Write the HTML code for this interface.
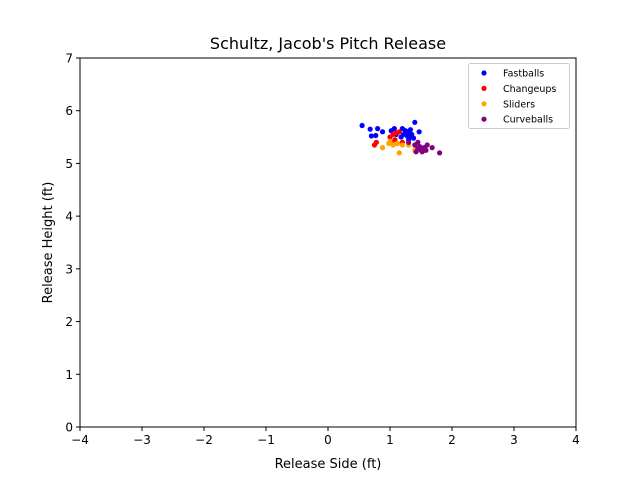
<!DOCTYPE html>
<html><head><meta charset="utf-8"><style>
body{margin:0;background:#fff}
svg text{font-family:"DejaVu Sans","Liberation Sans",sans-serif;fill:#000}
</style></head><body>
<svg id="chart" width="640" height="480" xmlns="http://www.w3.org/2000/svg">
<rect width="640" height="480" fill="#fff"/>
<text x="328" y="49" font-size="16" text-anchor="middle">Schultz, Jacob's Pitch Release</text>
<g id="marks"></g>
<rect x="80" y="58" width="496" height="369" fill="none" stroke="#000" stroke-width="1"/>
<g id="xticks"></g>
<g id="yticks"></g>
<text x="328" y="468" font-size="13" text-anchor="middle">Release Side (ft)</text>
<text transform="translate(52,242.5) rotate(-90)" font-size="13" text-anchor="middle">Release Height (ft)</text>
<g>
<rect x="468.5" y="63.5" width="101" height="65" rx="2" fill="#fff" fill-opacity="0.8" stroke="#ccc"/>
<g id="legend-items"></g>
</g>
</svg>
<script>
const seriesNames = ["Fastballs","Changeups","Sliders","Curveballs"];
const seriesColors = ["#0000ff","#ff0000","#ffa500","#800080"];
const xTicks = [-4,-3,-2,-1,0,1,2,3,4];
const yTicks = [0,1,2,3,4,5,6,7];
const fastballs = [[0.55,5.72],[0.68,5.65],[0.8,5.66],[0.88,5.6],[0.7,5.52],[0.77,5.53],[1.02,5.62],[1.07,5.66],[1.15,5.6],[1.2,5.66],[1.25,5.62],[1.3,5.6],[1.33,5.64],[1.22,5.55],[1.28,5.52],[1.35,5.55],[1.18,5.5],[1.1,5.55],[1.4,5.78],[1.47,5.6],[1.3,5.45],[1.25,5.58],[1.32,5.5],[1.38,5.48]];
const changeups = [[0.75,5.35],[0.78,5.4],[1.0,5.5],[1.05,5.55],[1.1,5.58],[1.08,5.45],[1.15,5.6],[1.02,5.4],[1.2,5.4],[1.12,5.38]];
const sliders = [[0.88,5.3],[0.98,5.38],[1.05,5.35],[1.12,5.38],[1.15,5.2],[1.3,5.35],[1.4,5.25],[1.0,5.42],[1.2,5.35]];
const curveballs = [[1.3,5.4],[1.4,5.35],[1.45,5.28],[1.5,5.25],[1.55,5.3],[1.6,5.35],[1.45,5.4],[1.52,5.22],[1.58,5.25],[1.68,5.3],[1.8,5.2],[1.48,5.32],[1.42,5.22]];

const NS="http://www.w3.org/2000/svg";
const X0=80,X1=576,Y0=427,Y1=58,XMIN=-4,XMAX=4,YMIN=0,YMAX=7;
function sx(v){return X0+(v-XMIN)/(XMAX-XMIN)*(X1-X0);}
function sy(v){return Y0-(v-YMIN)/(YMAX-YMIN)*(Y0-Y1);}
function mk(t,a){const e=document.createElementNS(NS,t);for(const k in a)e.setAttribute(k,a[k]);return e;}

const marks=document.getElementById('marks');
const allSeries=[fastballs,changeups,sliders,curveballs];
allSeries.forEach((s,i)=>{
  s.forEach(p=>{
    const c=mk('circle',{cx:sx(p[0]),cy:sy(p[1]),r:2.6,fill:seriesColors[i]});
    
    
    marks.appendChild(c);
  });
});

const xg=document.getElementById('xticks');
xTicks.forEach(t=>{
  const x=sx(t);
  const l=mk('line',{x1:x,x2:x,y1:Y0,y2:Y0+4,stroke:'#000'});
  
  
  xg.appendChild(l);
  const tx=mk('text',{x:x,y:Y0+17,'font-size':'12','text-anchor':'middle'});
  tx.textContent=(t<0?'\u2212'+(-t):t);
  
  
  xg.appendChild(tx);
});
const yg=document.getElementById('yticks');
yTicks.forEach(t=>{
  const y=sy(t);
  const l=mk('line',{x1:X0-4,x2:X0,y1:y,y2:y,stroke:'#000'});
  
  
  yg.appendChild(l);
  const tx=mk('text',{x:X0-7,y:y+4.5,'font-size':'12','text-anchor':'end'});
  tx.textContent=t;
  
  
  yg.appendChild(tx);
});

const lg=document.getElementById('legend-items');
seriesNames.forEach((n,i)=>{
  const y=73+i*15.4;
  const c=mk('circle',{cx:484,cy:y,r:2.6,fill:seriesColors[i]});
  
  
  lg.appendChild(c);
  const t=mk('text',{x:503,y:y+3.5,'font-size':'9.5'});
  t.textContent=n;
  
  
  lg.appendChild(t);
});
</script>
</body></html>
